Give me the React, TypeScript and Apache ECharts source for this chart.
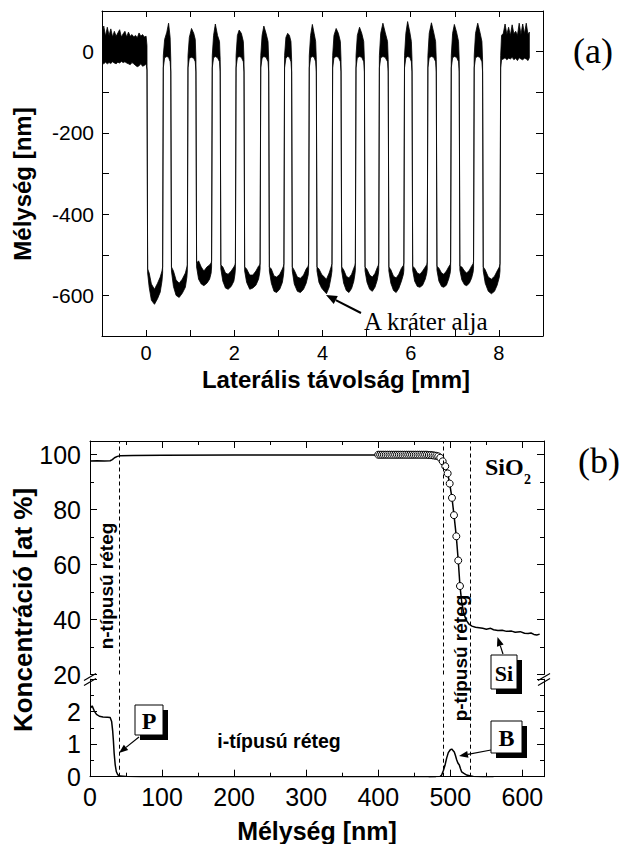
import React, { useEffect, useRef } from 'react';
import * as echarts from 'echarts';

// ---------- Panel (a): surface profile, key points [lateral mm, lower edge nm, upper edge nm]
const profileA: number[][] = [
  [-1.0, -28, 42], [-0.96, -30, 63], [-0.92, -26, 38], [-0.88, -30, 60], [-0.84, -27, 40], [-0.8, -29, 56],
  [-0.76, -25, 36], [-0.72, -28, 50], [-0.68, -30, 38], [-0.64, -26, 46], [-0.6, -28, 54], [-0.56, -24, 36],
  [-0.52, -27, 44], [-0.48, -25, 50], [-0.44, -28, 36], [-0.4, -30, 48], [-0.36, -32, 38], [-0.32, -27, 42],
  [-0.28, -30, 36], [-0.24, -34, 40], [-0.2, -37, 34], [-0.16, -35, 46], [-0.12, -30, 38], [-0.08, -36, 42],
  [-0.04, -34, 36], [0.0, -30, 38], [0.02, -45, 15],
  // crater 1
  [0.035, -545, -535], [0.07, -580, -545], [0.12, -612, -572], [0.19, -622, -585], [0.26, -608, -570], [0.32, -592, -555], [0.36, -565, -540], [0.375, -545, -530],
  [0.39, -40, -10], [0.42, -15, 30], [0.47, -12, 48], [0.51, -14, 70], [0.545, -25, 35], [0.56, -50, -20],
  // crater 2
  [0.575, -540, -530], [0.62, -578, -540], [0.68, -600, -562], [0.75, -605, -570], [0.82, -595, -560], [0.89, -580, -545], [0.925, -555, -530], [0.935, -540, -525],
  [0.95, -40, -10], [0.98, -16, 35], [1.03, -14, 57], [1.08, -16, 45], [1.115, -25, 30], [1.13, -50, -20],
  // crater 3
  [1.145, -530, -520], [1.19, -560, -515], [1.25, -572, -530], [1.31, -576, -540], [1.38, -570, -530], [1.44, -560, -525], [1.475, -545, -520], [1.485, -530, -515],
  [1.5, -40, -10], [1.53, -15, 40], [1.57, -12, 68], [1.62, -15, 40], [1.665, -25, 25], [1.68, -50, -20],
  // crater 4
  [1.695, -535, -525], [1.74, -565, -530], [1.8, -582, -545], [1.86, -585, -548], [1.93, -578, -540], [1.99, -565, -530], [2.015, -548, -525], [2.025, -535, -520],
  [2.04, -40, -10], [2.07, -15, 40], [2.11, -12, 53], [2.16, -14, 45], [2.205, -25, 25], [2.22, -50, -20],
  // crater 5
  [2.235, -540, -530], [2.28, -568, -535], [2.35, -585, -550], [2.42, -582, -550], [2.49, -575, -540], [2.55, -560, -528], [2.575, -545, -525], [2.585, -535, -520],
  [2.6, -40, -10], [2.63, -16, 40], [2.67, -12, 63], [2.72, -14, 45], [2.765, -25, 25], [2.78, -50, -20],
  // crater 6
  [2.795, -540, -530], [2.84, -570, -535], [2.9, -590, -552], [2.96, -593, -555], [3.03, -585, -548], [3.09, -568, -535], [3.115, -550, -528], [3.125, -538, -522],
  [3.14, -40, -10], [3.17, -16, 35], [3.21, -12, 45], [3.25, -14, 40], [3.285, -25, 25], [3.3, -50, -20],
  // crater 7
  [3.315, -540, -530], [3.36, -572, -538], [3.43, -590, -555], [3.5, -593, -558], [3.57, -585, -550], [3.63, -570, -535], [3.675, -550, -528], [3.685, -538, -522],
  [3.7, -40, -10], [3.73, -15, 40], [3.77, -12, 67], [3.81, -14, 45], [3.845, -25, 25], [3.86, -50, -20],
  // crater 8
  [3.875, -540, -530], [3.92, -568, -535], [3.98, -582, -548], [4.04, -590, -555], [4.09, -596, -560], [4.15, -580, -545], [4.195, -555, -530], [4.215, -540, -522],
  [4.23, -40, -10], [4.26, -15, 40], [4.31, -12, 57], [4.36, -14, 45], [4.405, -25, 25], [4.42, -50, -20],
  // crater 9
  [4.435, -540, -530], [4.48, -570, -537], [4.54, -588, -553], [4.6, -593, -557], [4.66, -583, -548], [4.71, -565, -533], [4.735, -548, -526], [4.745, -538, -520],
  [4.76, -40, -10], [4.79, -15, 40], [4.84, -12, 60], [4.89, -14, 45], [4.935, -25, 25], [4.95, -50, -20],
  // crater 10
  [4.965, -540, -530], [5.01, -568, -536], [5.07, -585, -550], [5.13, -590, -555], [5.19, -580, -546], [5.24, -563, -532], [5.265, -548, -526], [5.275, -538, -520],
  [5.29, -40, -10], [5.32, -15, 45], [5.37, -12, 70], [5.42, -14, 48], [5.475, -25, 25], [5.49, -50, -20],
  // crater 11
  [5.505, -540, -530], [5.55, -570, -537], [5.61, -588, -553], [5.67, -593, -557], [5.73, -583, -548], [5.79, -565, -533], [5.835, -548, -526], [5.845, -538, -520],
  [5.86, -40, -10], [5.89, -15, 45], [5.93, -12, 74], [5.98, -14, 48], [6.015, -25, 25], [6.03, -50, -20],
  // crater 12
  [6.045, -538, -528], [6.09, -565, -533], [6.15, -578, -545], [6.21, -580, -548], [6.27, -575, -540], [6.33, -560, -530], [6.365, -545, -524], [6.375, -535, -518],
  [6.39, -40, -10], [6.42, -15, 45], [6.47, -12, 71], [6.52, -14, 48], [6.565, -25, 25], [6.58, -50, -20],
  // crater 13
  [6.595, -538, -528], [6.64, -565, -533], [6.7, -578, -545], [6.75, -580, -548], [6.81, -575, -540], [6.86, -560, -530], [6.895, -545, -524], [6.905, -535, -518],
  [6.92, -40, -10], [6.95, -15, 45], [6.99, -12, 67], [7.04, -14, 48], [7.085, -25, 25], [7.1, -50, -20],
  // crater 14
  [7.115, -538, -528], [7.16, -562, -530], [7.22, -574, -540], [7.27, -576, -545], [7.33, -570, -538], [7.38, -558, -528], [7.415, -543, -522], [7.425, -533, -516],
  [7.44, -40, -10], [7.47, -15, 45], [7.52, -12, 70], [7.57, -14, 48], [7.615, -25, 25], [7.63, -50, -20],
  // crater 15
  [7.645, -540, -530], [7.69, -570, -537], [7.76, -590, -555], [7.83, -596, -560], [7.9, -590, -553], [7.96, -575, -540], [8.01, -555, -530], [8.025, -540, -522],
  // right plateau
  [8.04, -40, -10], [8.06, -20, 40], [8.1, -18, 45], [8.14, -15, 68], [8.18, -20, 42], [8.22, -16, 60], [8.26, -18, 40],
  [8.3, -14, 66], [8.34, -20, 44], [8.38, -16, 50], [8.42, -22, 40], [8.46, -15, 70], [8.5, -18, 42], [8.54, -20, 68],
  [8.58, -16, 44], [8.62, -18, 70], [8.66, -22, 42], [8.69, -15, 48],
];

// ---------- Panel (b): concentration depth profiles
const siLine: number[][] = [
  [0, 97.7], [10, 97.8], [20, 97.7], [28, 97.8], [31, 98.2], [34, 98.9], [38, 99.4], [42, 99.6], [60, 99.7],
  [100, 99.8], [200, 99.9], [300, 99.9], [400, 99.9], [470, 99.9], [480, 99.7], [485, 99.5], [489, 97.8],
  [493, 95.8], [496.3, 93.2], [499.1, 89.5], [502.3, 84.3], [505.1, 78], [508.3, 70.3], [511, 61.5], [513.4, 52.2],
  [516, 46], [519, 42], [522, 39.8], [526, 38.3], [530, 37.6], [535, 37.2], [540, 37.0], [545, 36.8], [550, 36.5],
  [556, 36.8], [560, 36.3], [566, 36.0], [572, 36.1], [578, 35.7], [585, 35.8], [590, 35.4], [597, 35.6],
  [603, 35.0], [608, 34.9], [612, 35.1], [616, 34.6], [620, 34.4], [624, 34.7],
];
const siCircles: number[][] = [
  [400, 100], [402.6, 100], [405.2, 100], [407.8, 100], [410.4, 100], [413, 100], [415.6, 100], [418.2, 100],
  [420.8, 100], [423.4, 100], [426, 100], [428.6, 100], [431.2, 100], [433.8, 100], [436.4, 100], [439, 100],
  [441.6, 100], [444.2, 100], [446.8, 100], [449.4, 100], [452, 100], [454.6, 100], [457.2, 100], [459.8, 100],
  [462.4, 100], [465, 100], [467.6, 100], [470.2, 99.9], [472.8, 99.9], [475.4, 99.8], [478, 99.7], [480.6, 99.6],
  [483.2, 99.4], [486, 98.9], [489.4, 97.6], [493, 95.8], [496.3, 93.2], [499.1, 89.5], [502.3, 84.3],
  [505.1, 78], [508.3, 70.3], [511, 61.5], [513.4, 52.2],
];
const pLine: number[][] = [
  [1, 2.12], [3, 2.18], [6, 2.02], [9, 1.92], [13, 1.86], [18, 1.84], [24, 1.83], [28, 1.82], [30, 1.7],
  [31.5, 1.4], [32.5, 1.1], [33.5, 0.72], [35, 0.36], [36.5, 0.16], [38.5, 0.06], [42, 0.02], [50, 0.01],
  [70, 0.0], [150, 0.0], [300, 0.0], [480, 0.0],
];
const bLine: number[][] = [
  [470, 0], [486, 0.01], [488, 0.05], [490.5, 0.2], [492.6, 0.35], [495, 0.58], [497.2, 0.74], [500, 0.83],
  [502, 0.85], [504, 0.8], [505.5, 0.76], [507, 0.66], [508.8, 0.52], [510.5, 0.42], [512.5, 0.36], [514, 0.25],
  [515.7, 0.15], [518.9, 0.1], [522.7, 0.05], [527, 0.03], [532, 0.01], [545, 0], [560, 0],
];
const layerBoundaries = [40, 490, 527];

const SANS = '"Liberation Sans", Arial, sans-serif';
const SERIF = '"Liberation Serif", "Times New Roman", serif';

function arrow(x1: number, y1: number, x2: number, y2: number, head = 10, w = 4, lw = 1.5) {
  const dx = x2 - x1, dy = y2 - y1;
  const L = Math.hypot(dx, dy);
  const ux = dx / L, uy = dy / L;
  const bx = x2 - ux * head, by = y2 - uy * head;
  return [
    { type: 'line', shape: { x1, y1, x2: bx, y2: by }, style: { stroke: '#000', lineWidth: lw } },
    { type: 'polygon', shape: { points: [[x2, y2], [bx - uy * w, by + ux * w], [bx + uy * w, by - ux * w]] }, style: { fill: '#000' } },
  ];
}

function labelBox(x: number, y: number, w: number, h: number, text: string, size: number) {
  return [
    { type: 'rect', shape: { x: x + 5, y: y + 5, width: w, height: h }, style: { fill: '#000' } },
    { type: 'rect', shape: { x, y, width: w, height: h }, style: { fill: '#fff', stroke: '#000', lineWidth: 1 } },
    {
      type: 'text', x: x + w / 2, y: y + h / 2 + 1,
      style: { text, fontSize: size, fontFamily: SERIF, fontWeight: 'bold', fill: '#000', align: 'center', verticalAlign: 'middle' },
    },
  ];
}

function txt(x: number, y: number, text: string, size: number, opts: any = {}) {
  return {
    type: 'text', x, y, rotation: opts.rotation || 0,
    style: {
      text, fontSize: size, fontFamily: opts.family || SANS, fontWeight: opts.weight || 'normal', fill: '#000',
      align: opts.align || 'center', verticalAlign: 'middle',
    },
  };
}

function slash(x: number, y: number) {
  return [
    { type: 'line', shape: { x1: x - 6, y1: y + 3.5, x2: x + 6, y2: y - 3.5 }, style: { stroke: '#000', lineWidth: 1.2 } },
    { type: 'line', shape: { x1: x - 6, y1: y + 8.5, x2: x + 6, y2: y + 1.5 }, style: { stroke: '#000', lineWidth: 1.2 } },
  ];
}

const lineStyle = { color: '#000', width: 1 };
function ax(extra: any) {
  return {
    type: 'value',
    axisLine: { show: true, onZero: false, lineStyle },
    axisTick: { show: true, inside: true, length: 7, lineStyle },
    minorTick: { show: false },
    splitLine: { show: false },
    minorSplitLine: { show: false },
    ...extra,
  };
}

export default function App() {
  const ref = useRef<HTMLDivElement>(null);
  useEffect(() => {
    if (!ref.current) return;
    const chart = echarts.init(ref.current, undefined, { renderer: 'svg' });
    const markLine = {
      silent: true,
      symbol: ['none', 'none'],
      label: { show: false },
      lineStyle: { color: '#000', type: [4, 3], width: 1 },
      data: layerBoundaries.map((x) => ({ xAxis: x })),
    };
    const option: any = {
      animation: false,
      backgroundColor: '#fff',
      grid: [
        { left: 102, top: 11, width: 441, height: 325 },
        { left: 90, top: 441, width: 454, height: 233.5 },
        { left: 90, top: 679.2, width: 454, height: 97.5 },
      ],
      xAxis: [
        ax({
          gridIndex: 0, position: 'bottom', min: -1, max: 9, interval: 1,
          axisTick: { show: true, inside: true, length: 6, lineStyle },
          axisLabel: {
            margin: 7, fontSize: 20, color: '#000', fontFamily: SANS,
            formatter: (v: number) => (v >= 0 && v <= 8 && Math.round(v) % 2 === 0 ? String(v) : ''),
          },
        }),
        ax({ gridIndex: 0, position: 'top', min: -1, max: 9, interval: 1, axisTick: { show: true, inside: true, length: 6, lineStyle }, axisLabel: { show: false } }),
        ax({
          gridIndex: 1, position: 'top', min: 0, max: 630, interval: 100,
          minorTick: { show: true, splitNumber: 2, length: 4, lineStyle }, axisLabel: { show: false },
        }),
        ax({
          gridIndex: 2, position: 'bottom', min: 0, max: 630, interval: 100,
          minorTick: { show: true, splitNumber: 2, length: 4, lineStyle },
          axisLabel: {
            margin: 8, fontSize: 25, color: '#000', fontFamily: SANS,
            formatter: (v: number) => (v % 100 === 0 && v <= 600 ? String(v) : ''),
          },
        }),
      ],
      yAxis: [
        ax({
          gridIndex: 0, position: 'left', min: -700, max: 100, interval: 100,
          axisLabel: {
            margin: 8, fontSize: 21, color: '#000', fontFamily: SANS,
            formatter: (v: number) => (v % 200 === 0 && v <= 0 && v >= -600 ? String(v) : ''),
          },
        }),
        ax({ gridIndex: 0, position: 'right', min: -700, max: 100, interval: 100, axisLabel: { show: false } }),
        ax({
          gridIndex: 1, position: 'left', min: 20, max: 105, interval: 20,
          minorTick: { show: true, splitNumber: 2, length: 4, lineStyle },
          axisLabel: {
            margin: 9, fontSize: 25, color: '#000', fontFamily: SANS,
            formatter: (v: number) => (v <= 100 ? String(v) : ''),
          },
        }),
        ax({
          gridIndex: 1, position: 'right', min: 20, max: 105, interval: 20,
          minorTick: { show: true, splitNumber: 2, length: 4, lineStyle }, axisLabel: { show: false },
        }),
        ax({
          gridIndex: 2, position: 'left', min: 0, max: 3, interval: 1,
          minorTick: { show: true, splitNumber: 2, length: 4, lineStyle },
          axisLabel: {
            margin: 9, fontSize: 25, color: '#000', fontFamily: SANS,
            formatter: (v: number) => (v <= 2 ? String(v) : ''),
          },
        }),
        ax({
          gridIndex: 2, position: 'right', min: 0, max: 3, interval: 1,
          minorTick: { show: true, splitNumber: 2, length: 4, lineStyle }, axisLabel: { show: false },
        }),
      ],
      series: [
        {
          type: 'custom',
          xAxisIndex: 0,
          yAxisIndex: 0,
          silent: true,
          clip: true,
          data: [[0, 0]],
          renderItem: (_params: any, api: any) => {
            const upper = profileA.map((p) => api.coord([p[0], p[2]]));
            const lower = profileA.slice().reverse().map((p) => api.coord([p[0], p[1]]));
            return {
              type: 'polygon',
              shape: { points: upper.concat(lower) },
              style: { fill: '#000', stroke: '#000', lineWidth: 0.8 },
            };
          },
        },
        {
          type: 'line', xAxisIndex: 2, yAxisIndex: 2, data: siLine, symbol: 'none', silent: true,
          lineStyle: { color: '#000', width: 1.5 }, markLine,
        },
        {
          type: 'scatter', xAxisIndex: 2, yAxisIndex: 2, data: siCircles, symbol: 'circle', symbolSize: 7, silent: true,
          itemStyle: { color: '#fff', borderColor: '#000', borderWidth: 1, opacity: 1 }, z: 3,
        },
        {
          type: 'line', xAxisIndex: 3, yAxisIndex: 4, data: pLine, symbol: 'none', silent: true,
          lineStyle: { color: '#000', width: 1.5 }, markLine,
        },
        {
          type: 'line', xAxisIndex: 3, yAxisIndex: 4, data: bLine, symbol: 'none', silent: true,
          lineStyle: { color: '#000', width: 1.5 },
        },
      ],
      graphic: [
        // panel (a)
        txt(593, 51, '(a)', 36, { family: SERIF }),
        txt(22, 184, 'Mélység [nm]', 24, { weight: 'bold', rotation: Math.PI / 2 }),
        txt(336, 379, 'Laterális távolság [mm]', 24, { weight: 'bold' }),
        txt(364, 321, 'A kráter alja', 25, { family: SERIF, align: 'left' }),
        ...arrow(361, 313, 326, 295, 11, 4.5, 2),
        // panel (b)
        txt(599, 461, '(b)', 36, { family: SERIF }),
        txt(23, 610, 'Koncentráció [at %]', 26, { weight: 'bold', rotation: Math.PI / 2 }),
        txt(317, 831, 'Mélység [nm]', 25, { weight: 'bold' }),
        txt(106, 586, 'n-típusú réteg', 19, { weight: 'bold', rotation: Math.PI / 2 }),
        txt(460, 658, 'p-típusú réteg', 19, { weight: 'bold', rotation: Math.PI / 2 }),
        txt(279, 741, 'i-típusú réteg', 19.5, { weight: 'bold' }),
        txt(485, 467, 'SiO', 24, { family: SERIF, weight: 'bold', align: 'left' }),
        txt(524, 479, '2', 14, { family: SERIF, weight: 'bold', align: 'left' }),
        ...slash(90, 677),
        ...slash(544, 677),
        ...arrow(139, 737, 119, 753, 9, 3.5, 1.2),
        ...arrow(503, 654, 497.5, 637, 9, 3.5, 1.2),
        ...arrow(491, 750, 459, 756, 9, 3.5, 1.2),
        ...labelBox(135, 705, 28, 30, 'P', 24),
        ...labelBox(491, 655, 26, 34, 'Si', 22),
        ...labelBox(491, 721, 31, 32, 'B', 24),
      ],
    };
    chart.setOption(option);
    return () => chart.dispose();
  }, []);
  return <div ref={ref} style={{ position: 'fixed', left: 0, top: 0, width: 622, height: 844, background: '#fff' }} />;
}
